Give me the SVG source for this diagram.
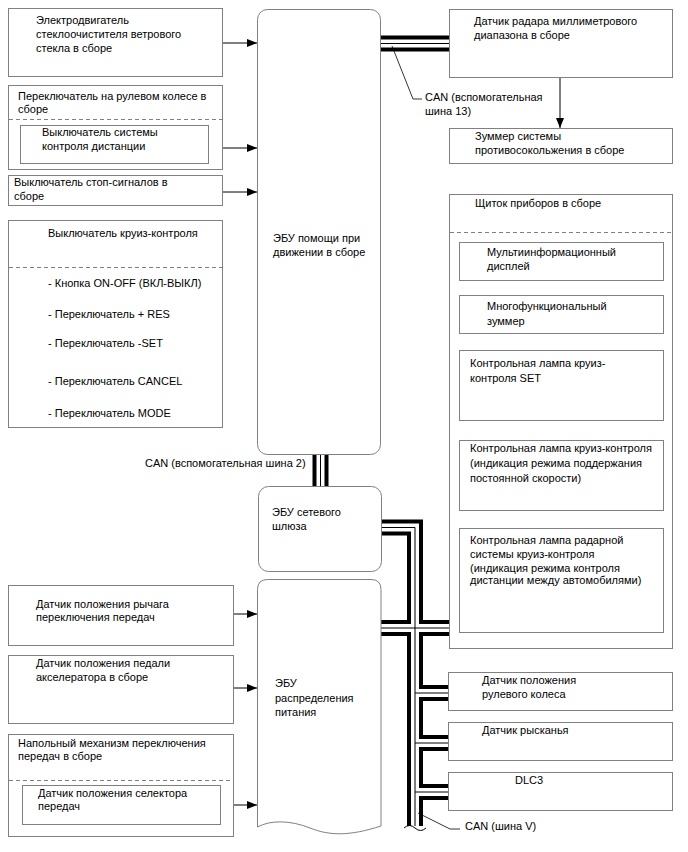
<svg xmlns="http://www.w3.org/2000/svg" width="688" height="852" viewBox="0 0 688 852">
<defs>
<style>
text{font-family:"Liberation Sans",Arial,sans-serif;font-size:11px;fill:#000}
.box{fill:#fff;stroke:#808080;stroke-width:1}
.dash{stroke:#808080;stroke-width:1;stroke-dasharray:4 3;fill:none}
.arr{stroke:#000;stroke-width:1;fill:none;marker-end:url(#ah)}
.lead{stroke:#000;stroke-width:0.8;fill:none}
.bk{stroke:#000;stroke-width:16;fill:none;stroke-linejoin:miter}
.wh{stroke:#fff;stroke-width:8;fill:none;stroke-linejoin:miter}
.th{stroke:#000;stroke-width:1;fill:none}
</style>
<marker id="ah" viewBox="0 0 10 8" refX="10" refY="4" markerWidth="10" markerHeight="8" markerUnits="userSpaceOnUse" orient="auto">
<path d="M0,0 L10,4 L0,8 Z" fill="#000"/>
</marker>
</defs>
<rect width="688" height="852" fill="#fff"/>

<g id="connectors">
<g id="buses">
<g class="bk">
<path d="M380,43.5 H449"/>
<path d="M320.5,454 V486"/>
<path d="M382,527.5 H415 V826"/>
<path d="M381,628 H449"/>
<path d="M415,693 H448"/>
<path d="M415,743 H448"/>
<path d="M415,792 H448"/>
</g>
<g class="wh">
<path d="M380,43.5 H449"/>
<path d="M320.5,454 V486"/>
<path d="M382,527.5 H415 V826"/>
<path d="M381,628 H449"/>
<path d="M415,693 H448"/>
<path d="M415,743 H448"/>
<path d="M415,792 H448"/>
</g>
<g class="th">
<path d="M380,43.5 H449"/>
<path d="M320.5,454 V486"/>
<path d="M382,527.5 H415 V826"/>
<path d="M381,628 H449"/>
<path d="M415,693 H448"/>
<path d="M415,743 H448"/>
<path d="M415,792 H448"/>
<path d="M404,828 q5.5,-5 11,0 t11,0"/>
</g>
</g>
<path class="arr" d="M222,43 H257"/>
<path class="arr" d="M208,148 H257"/>
<path class="arr" d="M222,192 H257"/>
<path class="arr" d="M233,614 H257"/>
<path class="arr" d="M233,688 H257"/>
<path class="arr" d="M220,805 H257"/>
<path class="arr" d="M560,77 V128"/>
<path class="lead" d="M392,46 L413,99 H422"/>
<path class="lead" d="M418,813 L450,829 H460"/>
<text x="425" y="101">CAN (вспомогательная</text>
<text x="425" y="115">шина 13)</text>
<text x="145" y="467">CAN (вспомогательная шина 2)</text>
<text x="465" y="830">CAN (шина V)</text>
</g>

<g id="wiper">
<rect class="box" x="8.5" y="8.5" width="214" height="68"/>
<text x="36" y="24">Электродвигатель</text>
<text x="36" y="38">стеклоочистителя ветрового</text>
<text x="36" y="52">стекла в сборе</text>
</g>

<g id="steering-switch">
<rect class="box" x="8.5" y="85.5" width="214" height="84"/>
<text x="18" y="100">Переключатель на рулевом колесе в</text>
<text x="18" y="113">сборе</text>
<path class="dash" d="M9,119.5 H222"/>
<rect class="box" x="20.5" y="125.5" width="188" height="38"/>
<text x="42" y="136">Выключатель системы</text>
<text x="42" y="150">контроля дистанции</text>
</g>

<g id="stop-switch">
<rect class="box" x="8.5" y="175.5" width="214" height="30"/>
<text x="14" y="186">Выключатель стоп-сигналов в</text>
<text x="14" y="200">сборе</text>
</g>

<g id="cruise-switch">
<rect class="box" x="8.5" y="220.5" width="214" height="207"/>
<text x="48" y="237">Выключатель круиз-контроля</text>
<path class="dash" d="M9,267.5 H222"/>
<text x="48" y="287">- Кнопка ON-OFF (ВКЛ-ВЫКЛ)</text>
<text x="48" y="318">- Переключатель + RES</text>
<text x="48" y="347">- Переключатель -SET</text>
<text x="48" y="385">- Переключатель CANCEL</text>
<text x="48" y="417">- Переключатель MODE</text>
</g>

<g id="assist-ecu">
<rect class="box" x="257.5" y="9.5" width="123" height="445" rx="10"/>
<text x="273" y="242">ЭБУ помощи при</text>
<text x="273" y="256">движении в сборе</text>
</g>

<g id="gateway-ecu">
<rect class="box" x="258.5" y="486.5" width="123" height="85" rx="10"/>
<text x="272" y="516">ЭБУ сетевого</text>
<text x="272" y="530">шлюза</text>
</g>

<g id="shift-lever-sensor">
<rect class="box" x="8.5" y="585.5" width="225" height="60"/>
<text x="36" y="608">Датчик положения рычага</text>
<text x="36" y="621">переключения передач</text>
</g>

<g id="accel-sensor">
<rect class="box" x="8.5" y="655.5" width="225" height="68"/>
<text x="36" y="667">Датчик положения педали</text>
<text x="36" y="681">акселератора в сборе</text>
</g>

<g id="floor-shift">
<rect class="box" x="8.5" y="734.5" width="225" height="102"/>
<text x="18" y="747">Напольный механизм переключения</text>
<text x="18" y="760">передач в сборе</text>
<path class="dash" d="M9,780.5 H233"/>
<rect class="box" x="22.5" y="785.5" width="198" height="39"/>
<text x="38" y="797">Датчик положения селектора</text>
<text x="38" y="810">передач</text>
</g>

<g id="power-ecu">
<path class="box" d="M257.5,827 V589.5 Q257.5,579.5 267.5,579.5 H371 Q381,579.5 381,589.5 V826 C350,836 330,836 310,828 C290,820 270,820 257.5,827 Z"/>
<text x="275" y="687">ЭБУ</text>
<text x="275" y="702">распределения</text>
<text x="275" y="716">питания</text>
</g>

<g id="radar-sensor">
<rect class="box" x="449.5" y="9.5" width="223" height="68"/>
<text x="474" y="25">Датчик радара миллиметрового</text>
<text x="474" y="39">диапазона в сборе</text>
</g>

<g id="buzzer">
<rect class="box" x="449.5" y="128.5" width="223" height="35"/>
<text x="475" y="140">Зуммер системы</text>
<text x="475" y="154">противосокольжения в сборе</text>
</g>

<g id="combination-meter">
<rect class="box" x="449.5" y="194.5" width="223" height="454"/>
<text x="475" y="207">Щиток приборов в сборе</text>
<path class="dash" d="M450,232.5 H672"/>
<rect class="box" x="459.5" y="242.5" width="204" height="38"/>
<text x="487" y="256">Мультиинформационный</text>
<text x="487" y="270">дисплей</text>
<rect class="box" x="459.5" y="295.5" width="204" height="38"/>
<text x="487" y="310">Многофункциональный</text>
<text x="487" y="325">зуммер</text>
<rect class="box" x="459.5" y="350.5" width="204" height="70"/>
<text x="470" y="367">Контрольная лампа круиз-</text>
<text x="470" y="382">контроля SET</text>
<rect class="box" x="459.5" y="440.5" width="204" height="70"/>
<text x="470" y="452">Контрольная лампа круиз-контроля</text>
<text x="470" y="467">(индикация режима поддержания</text>
<text x="470" y="482">постоянной скорости)</text>
<rect class="box" x="459.5" y="528.5" width="204" height="104"/>
<text x="470" y="544">Контрольная лампа радарной</text>
<text x="470" y="558">системы круиз-контроля</text>
<text x="470" y="572">(индикация режима контроля</text>
<text x="470" y="584">дистанции между автомобилями)</text>
</g>

<g id="steering-sensor">
<rect class="box" x="448.5" y="672.5" width="224" height="38"/>
<text x="482" y="684">Датчик положения</text>
<text x="482" y="698">рулевого колеса</text>
</g>

<g id="yaw-sensor">
<rect class="box" x="448.5" y="722.5" width="224" height="38"/>
<text x="482" y="734">Датчик рысканья</text>
</g>

<g id="dlc3">
<rect class="box" x="448.5" y="772.5" width="224" height="38"/>
<text x="515" y="784">DLC3</text>
</g>
</svg>
